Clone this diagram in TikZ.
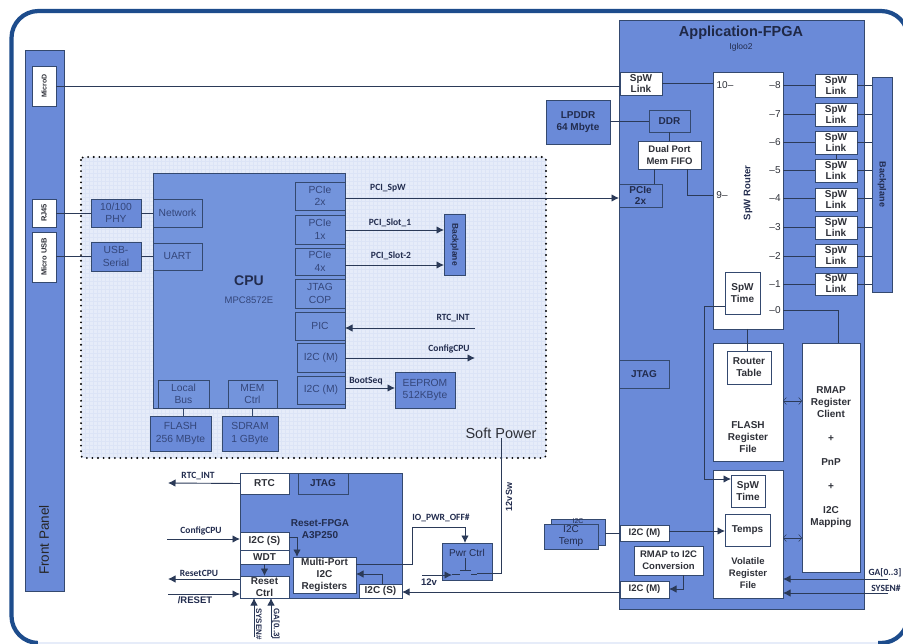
\documentclass[tikz,border=0pt]{standalone}
\usepackage{graphicx}
\usepackage{fontspec}
\setmainfont{Liberation Sans}
\newfontfamily\calfont{Carlito}
\usetikzlibrary{arrows.meta}
\definecolor{fblue}{HTML}{6A8AD8}
\definecolor{cblue}{HTML}{7394DC}
\definecolor{frameblue}{HTML}{1D4C8C}
\definecolor{softbg}{HTML}{E6ECF9}
\definecolor{softgrid}{HTML}{DCE4F6}
\definecolor{edge}{HTML}{34496F}
\definecolor{wire}{HTML}{2B3A58}
\definecolor{ink}{HTML}{222C4E}
\definecolor{inkc}{HTML}{34467A}
\definecolor{inkw}{HTML}{2E3038}
\newcommand\fsz[2]{\fontsize{#1}{#2}\selectfont}
\newcommand\bx[7][]{%
  \pgfmathsetmacro\bxcx{(#3+#5)/2}\pgfmathsetmacro\bxcy{(#4+#6)/2}%
  \pgfmathsetmacro\bxw{#5-#3}\pgfmathsetmacro\bxh{#6-#4}%
  \node[bluebox,minimum width=\bxw pt,minimum height=\bxh pt,#1] (#2) at (\bxcx,\bxcy) {#7};}
\newcommand\rt[1]{\rotatebox{90}{#1}}
\newcommand\rr[1]{\rotatebox{-90}{#1}}
\tikzset{
  bluebox/.style={draw=edge,fill=fblue,line width=0.8pt,inner sep=0pt,outer sep=0pt,align=center,text=ink,font=\fsz{10}{12}},
  cpubox/.style={bluebox,fill=cblue,text=inkc,font=\fsz{10.3}{12.2}},
  whitebox/.style={bluebox,fill=white,text=inkw},
  lab/.style={inner sep=0pt,outer sep=0pt,text=ink,align=center,font=\calfont\bfseries\fsz{9.5}{11}},
  conn/.style={draw=wire,line width=0.9pt},
  arr/.style={conn,-{Latex[length=7.5pt,width=7.5pt]}},
  thinarr/.style={draw=wire,line width=0.5pt,{Straight Barb[length=3pt,width=7pt]}-{Straight Barb[length=3pt,width=7pt]}},
}
\begin{document}
\begin{tikzpicture}[x=1pt,y=-1pt]
\useasboundingbox (0,0) rectangle (903,644);
% frame
\path[fill=white] (0,0) rectangle (903,644);
\draw[frameblue,line width=4.2pt,rounded corners=27pt] (11.5,11) rectangle (908,643);
\fill[white] (38,640) rectangle (878,641.5);
\fill[softbg] (38,641.5) rectangle (878,644);
% front panel
\bx{panel}{25}{50}{64}{591}{}
\node[lab,font=\fsz{13.5}{15},text=black!85] (paneltxt) at (44,540) {\rt{Front Panel}};
\bx[whitebox,font=\bfseries\fsz{7}{8}]{microd}{32}{66}{56}{106}{\rt{MicroD}}
\bx[whitebox,font=\bfseries\fsz{7.5}{8}]{rj}{32}{199}{56}{227}{\rt{RJ45}}
\bx[whitebox,font=\bfseries\fsz{7.5}{8}]{musb}{32}{232}{56}{282}{\rt{Micro USB}}
% soft power region
\fill[fill=softbg,rounded corners=3pt] (81,157) rectangle (546,458);
\foreach \gx in {85,89,...,545}{\draw[softgrid,line width=0.4pt] (\gx,158) -- (\gx,457);}
\foreach \gy in {161,165,...,457}{\draw[softgrid,line width=0.4pt] (82,\gy) -- (545,\gy);}
\draw[black,line width=2.1pt,line cap=round,dash pattern=on 0pt off 5.6pt,rounded corners=3pt] (81,157) rectangle (546,458);
\node[lab,font=\fsz{14.5}{16},text=inkw] (softtxt) at (501,433) {Soft Power};
% CPU block
\bx[cpubox,fill=fblue]{phy}{91}{199}{141}{227}{10/100\\PHY}
\bx[cpubox,fill=fblue]{usbs}{91}{242}{141}{271}{USB-\\Serial}
\bx[cpubox]{cpu}{153}{173}{345}{408}{}
\bx[cpubox]{net}{153}{199}{202}{227}{Network}
\bx[cpubox]{uart}{153}{243}{202}{270}{UART}
\node[lab,font=\bfseries\fsz{14}{16},text=ink] (cputxt) at (249,281) {CPU};
\node[lab,font=\fsz{9.5}{11},text=inkc] (cpusub) at (249,300) {MPC8572E};
\bx[cpubox]{pa}{295}{182}{345}{210}{PCIe\\2x}
\bx[cpubox]{pb}{295}{215}{345}{244}{PCIe\\1x}
\bx[cpubox]{pc}{295}{248}{345}{275}{PCIe\\4x}
\bx[cpubox]{jc}{295}{279}{345}{308}{JTAG\\COP}
\bx[cpubox]{pic}{295}{312}{345}{340}{PIC}
\bx[cpubox]{ia}{297}{343}{345}{372}{I2C (M)}
\bx[cpubox]{ib}{297}{376}{345}{404}{I2C (M)}
\bx[cpubox]{lbus}{158}{380}{209}{408}{Local\\Bus}
\bx[cpubox]{mem}{228}{380}{277}{408}{MEM\\Ctrl}
\bx[cpubox,fill=fblue]{flash}{150}{416}{211}{451}{FLASH\\256 MByte}
\bx[cpubox,fill=fblue]{sdram}{222}{416}{278}{451}{SDRAM\\1 GByte}
\bx[cpubox,fill=fblue]{eeprom}{395}{372}{455}{408}{EEPROM\\512KByte}
\bx[font=\bfseries\fsz{8.5}{10}]{bpa}{444}{214}{465}{275}{\rr{Backplane}}
\coordinate (rtcend) at (475,328);
\coordinate (cfgend) at (475,358);
\draw[conn] (rj.east |- phy.west) -- (phy.west);
\draw[conn] (musb.east |- usbs.west) -- (usbs.west);
\draw[conn] (phy.east) -- (net.west);
\draw[conn] (usbs.east) -- (uart.west);
\draw[conn,draw=edge] (lbus.south -| 183,0) -- (flash.north -| 183,0);
\draw[conn,draw=edge] (mem.south -| 252,0) -- (sdram.north -| 252,0);
\draw[arr] (pb.east |- 0,230) -- (bpa.west |- 0,230);
\node[lab] (ls1) at (390,223) {PCI\_Slot\_1};
\draw[arr] (pc.east |- 0,265) -- (bpa.west |- 0,265);
\node[lab] (ls2) at (391,256) {PCI\_Slot-2};
\draw[arr] (rtcend) -- (pic.east |- rtcend);
\node[lab] (lrtc) at (453,318) {RTC\_INT};
\draw[arr] (ia.east |- cfgend) -- (cfgend);
\node[lab] (lcfg) at (449,349) {ConfigCPU};
\draw[arr] (ib.east |- 0,388) -- (eeprom.west |- 0,388);
\node[lab] (lboot) at (366,381) {BootSeq};
% Application FPGA
\bx{app}{619}{20}{864}{609}{}
\node[lab,font=\bfseries\fsz{14.5}{16},text=ink!90!black] (apptxt) at (741,33) {Application-FPGA};
\node[lab,font=\fsz{8.5}{10}] (appsub) at (741,47) {Igloo2};
\bx[whitebox,font=\bfseries\fsz{10}{11}]{slk}{620}{72}{662}{95}{SpW\\Link}
\draw[conn] (microd.east) -- (slk.west |- microd.east);
\bx{lpddr}{546}{100}{610}{144}{\bfseries LPDDR\\\bfseries 64 Mbyte}
\bx[font=\bfseries\fsz{10}{12}]{ddr}{649}{110}{690}{132}{DDR}
\bx[whitebox,font=\bfseries\fsz{9.5}{12.5}]{dual}{638}{141}{701}{169}{Dual Port\\Mem FIFO}
\bx[font=\bfseries\fsz{10}{11.5}]{apcie}{619}{184}{662}{207}{PCIe\\2x}
\bx[whitebox]{router}{713}{72}{783}{329}{}
\node[lab,font=\bfseries\fsz{9.5}{11},text=ink] (rtxt) at (748,193) {\rt{SpW Router}};
\foreach \n/\ya/\yb in {a/74/97,b/103/126,c/131/154,d/159/182,e/188/211,f/216/239,g/244/267,h/273/295}{
  \bx[whitebox,font=\bfseries\fsz{10}{11}]{lk\n}{815}{\ya}{857}{\yb}{SpW\\Link}
}
\bx[font=\bfseries\fsz{9}{10}]{bpb}{872}{77}{892}{292}{\rr{Backplane}}
\foreach \n/\yy/\lbl in {a/85/8,b/114/7,c/142/6,d/170/5,e/198.5/4,f/227/3,g/256/2,h/284/1}{
  \node[lab,text=inkw,font=\fsz{10}{12}] (tick\n) at (775,\yy) {--\lbl};
  \draw[conn] (router.east |- 0,\yy) -- (lk\n.west |- 0,\yy);
  \draw[conn] (lk\n.east |- 0,\yy) -- (bpb.west |- 0,\yy);
}
\draw[conn] (lkc) -- (lkd);
\node[lab,text=inkw,font=\fsz{10}{12}] (tick0) at (775,310) {--0};
\node[lab,text=inkw,font=\fsz{10}{12}] (tick10) at (725,85) {10--};
\node[lab,text=inkw,font=\fsz{10}{12}] (tick9) at (722,195) {9--};
\bx[whitebox,font=\bfseries\fsz{10}{12}]{stime}{725}{272}{760}{314}{SpW\\Time}
\bx[whitebox]{freg}{713}{343}{783}{461}{}
\bx[whitebox,font=\bfseries\fsz{10}{12}]{rtab}{727}{351}{771}{384}{Router\\Table}
\node[lab,text=inkw,font=\bfseries\fsz{10}{12}] (ftxt) at (748,437) {FLASH\\Register\\File};
\bx[whitebox,font=\bfseries\fsz{10}{12}]{rmap}{802}{343}{860}{572}{RMAP\\Register\\Client\\[12pt]+\\[12pt]PnP\\[12pt]+\\[12pt]I2C\\Mapping}
\bx[whitebox]{vreg}{713}{470}{783}{598}{}
\bx[whitebox,font=\bfseries\fsz{10}{12}]{vtime}{731}{475}{765}{507}{SpW\\Time}
\bx[whitebox,font=\bfseries\fsz{10}{12}]{temps}{725}{514}{770}{546}{Temps}
\node[lab,text=inkw,font=\bfseries\fsz{9.5}{11.8}] (vtxt) at (748,573) {Volatile\\Register\\File};
\bx[font=\bfseries\fsz{10}{12}]{ajtag}{619}{360}{669}{388}{JTAG}
\bx[whitebox,font=\bfseries\fsz{9.5}{11}]{aia}{620}{525}{669}{541}{I2C (M)}
\bx[whitebox,font=\bfseries\fsz{9.5}{11}]{aib}{620}{581}{669}{598}{I2C (M)}
\bx[whitebox,font=\bfseries\fsz{9.5}{12}]{rmapc}{634}{546}{703}{575}{RMAP to I2C\\Conversion}
\bx{tb}{551}{519}{605}{545}{}
\node[lab,font=\fsz{7}{8}] (tbtxt) at (578,521) {I2C};
\bx{ta}{544}{524}{598}{549}{I2C\\Temp}
\draw[conn] (slk.east) -- (router.west |- slk.east);
\draw[conn] (lpddr.east |- ddr.west) -- (ddr.west);
\draw[conn] (ddr.south) -- (ddr.south |- dual.north);
\draw[conn] (dual.south -| 654,0) -- (apcie.north -| 654,0);
\draw[conn] (dual.south -| 687,0) -- (687,195) -- (router.west |- 0,195);
\draw[arr] (pa.east |- 0,198) -- (apcie.west |- 0,198);
\node[lab] (lspw) at (388,188) {PCI\_SpW};
\draw[conn] (stime.west |- 0,306) -- (704,306) -- (704,479);
\draw[arr] (704,479) -- (vtime.west |- 0,479);
\draw[conn] (router.east |- 0,310) -- (838,310) -- (838,343);
\draw[conn] (router.south -| 747,0) -- (rtab.north -| 747,0);
\draw[thinarr] (freg.east |- 0,401) -- (rmap.west |- 0,401);
\draw[thinarr] (vreg.east |- 0,538) -- (rmap.west |- 0,538);
\draw[conn] (tb.east |- aia.west) -- (aia.west);
\draw[arr] (aia.east |- 0,531) -- (temps.west |- 0,531);
\draw[arr] (rmapc.south -| 683,0) -- (683,589) -- (aib.east |- 0,589);
\coordinate (gaend) at (888,579);
\coordinate (syend) at (888,593);
\draw[arr] (gaend) -- (vreg.east |- gaend);
\draw[arr] (syend) -- (vreg.east |- syend);
\node[lab] (lga) at (885,573) {GA[0..3]};
\node[lab] (lsy) at (886,588) {SYSEN\#};
% Reset FPGA
\bx{rst}{240}{473}{402}{598}{}
\node[lab,font=\bfseries\fsz{10}{12}] (rsttxt) at (320,529) {Reset-FPGA\\A3P250};
\bx[whitebox,font=\bfseries\fsz{10}{12}]{rtc}{240}{473}{289}{494}{RTC}
\bx[font=\bfseries\fsz{10}{12}]{rjtag}{298}{473}{348}{494}{JTAG}
\bx[whitebox,font=\bfseries\fsz{10}{12}]{is}{240}{532}{289}{550}{I2C (S)}
\bx[whitebox,font=\bfseries\fsz{10}{12}]{wdt}{240}{550}{289}{564}{WDT}
\bx[whitebox,font=\bfseries\fsz{10}{12}]{rc}{240}{576}{289}{598}{Reset\\Ctrl}
\bx[whitebox,font=\bfseries\fsz{10}{12}]{mp}{293}{557}{356}{593}{Multi-Port\\I2C\\Registers}
\bx[whitebox,font=\bfseries\fsz{10}{12}]{isb}{359}{584}{402}{598}{I2C (S)}
\bx{pwr}{442}{543}{492}{580}{}
\node[lab,font=\fsz{10}{12}] (pwrtxt) at (467,553) {Pwr Ctrl};
\coordinate (rtcout) at (168,483);
\coordinate (cfgin) at (167,539);
\coordinate (rstout) at (168,579);
\coordinate (rstin) at (168,594);
\coordinate (syin) at (254,637);
\coordinate (gain) at (271,637);
\coordinate (vin) at (422,575);
\draw[arr] (rtc.west) -- (rtcout);
\node[lab] (l1) at (198,476) {RTC\_INT};
\draw[arr] (cfgin) -- (is.west |- cfgin);
\node[lab] (l2) at (201,531) {ConfigCPU};
\draw[arr] (rc.west |- rstout) -- (rstout);
\node[lab] (l3) at (199,573) {ResetCPU};
\draw[arr] (rstin) -- (rc.west |- rstin);
\node[lab,font=\bfseries\fsz{9.5}{11}] (l4) at (195,600) {/RESET};
\draw[arr] (syin) -- (rc.south -| syin);
\draw[arr] (gain) -- (rc.south -| gain);
\node[lab,font=\bfseries\fsz{8}{9}] (l5) at (259,624) {\rr{SYSEN\#}};
\node[lab,font=\bfseries\fsz{8}{9}] (l6) at (276,624) {\rr{GA[0..3]}};
\draw[arr] (is.east |- 0,537) -- (297,537) -- (mp.north -| 297,0);
\draw[arr] (wdt.south) -- (rc.north -| wdt.south);
\draw[arr] (isb.north -| 382,0) -- (382,574) -- (mp.east |- 0,574);
\draw[arr] (mp.east |- 0,564) -- (412,564) -- (412,527) -- (465,527) -- (pwr.north -| 465,0);
\node[lab] (l7) at (441,518) {IO\_PWR\_OFF\#};
\draw[arr] (aib.west |- 0,592) -- (isb.east |- 0,592);
% switch
\draw[arr] (vin) -- (452,575);
\draw[conn] (452,574) -- (460,574) (471,574) -- (477,574) (460,570.5) -- (471,570.5) (465,558) -- (465,570.5);
\draw[conn] (477,573.5) -- (501,573.5) -- (softtxt.south -| 501,0);
\node[lab,font=\bfseries\fsz{9.5}{11}] (l8) at (429,582) {12v};
\node[lab,font=\bfseries\fsz{9}{10}] (l9) at (509,497) {\rt{12vSw}};
\end{tikzpicture}
\end{document}
